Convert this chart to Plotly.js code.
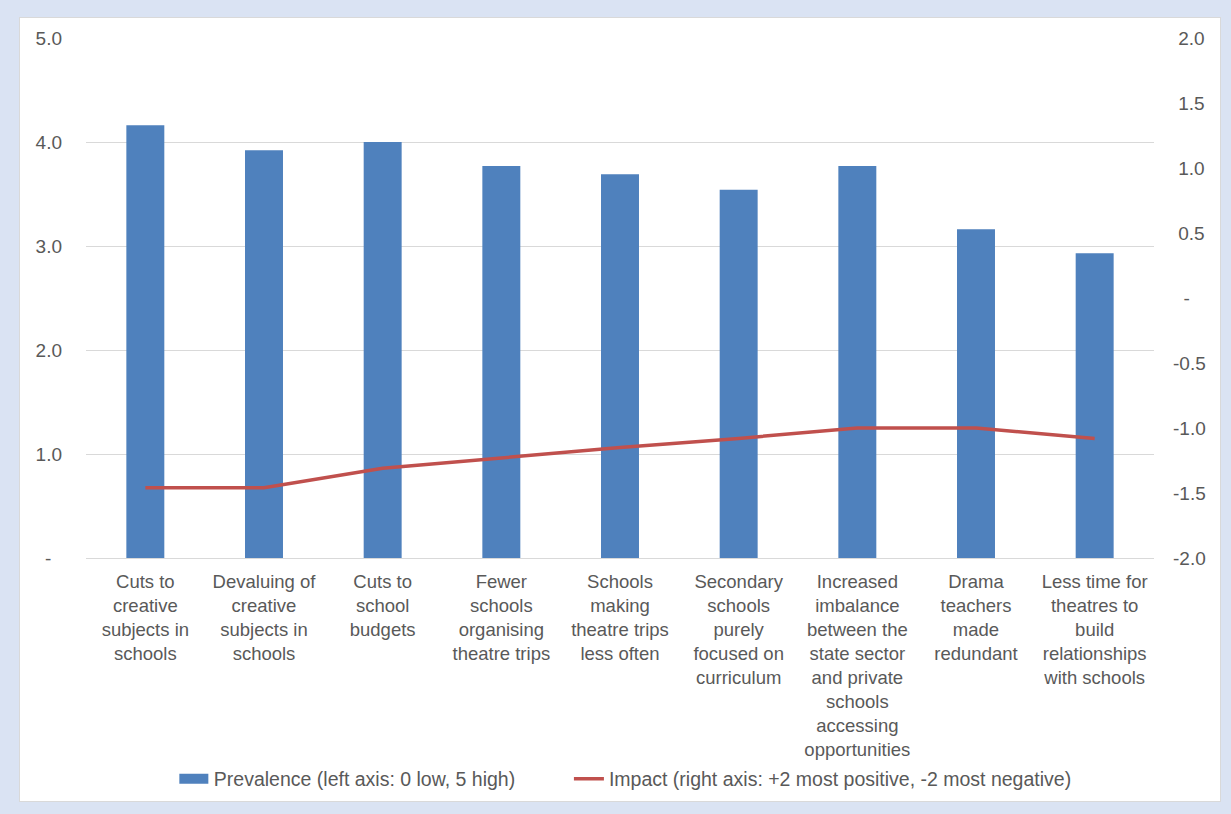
<!DOCTYPE html>
<html>
<head>
<meta charset="utf-8">
<script src="https://cdn.plot.ly/plotly-3.0.1.min.js"></script>
<style>
  html, body { margin: 0; padding: 0; }
  body { width: 1231px; height: 814px; background: #dae3f3; position: relative; overflow: hidden; }
  #chart { position: absolute; left: 19px; top: 17px; width: 1200px; height: 783px;
           background: #ffffff; border: 1px solid #d9d9d9; }
</style>
</head>
<body>
<div id="chart"></div>
<script>
// Categories (wrapped onto several lines for the axis)
const categories = [
  "Cuts to<br>creative<br>subjects in<br>schools",
  "Devaluing of<br>creative<br>subjects in<br>schools",
  "Cuts to<br>school<br>budgets",
  "Fewer<br>schools<br>organising<br>theatre trips",
  "Schools<br>making<br>theatre trips<br>less often",
  "Secondary<br>schools<br>purely<br>focused on<br>curriculum",
  "Increased<br>imbalance<br>between the<br>state sector<br>and private<br>schools<br>accessing<br>opportunities",
  "Drama<br>teachers<br>made<br>redundant",
  "Less time for<br>theatres to<br>build<br>relationships<br>with schools"
];

// Prevalence: 0 low, 5 high (left axis)
const prevalence = [4.16, 3.92, 4.00, 3.77, 3.69, 3.54, 3.77, 3.16, 2.93];

// Impact: +2 most positive, -2 most negative (right axis)
const impact = [-1.46, -1.46, -1.31, -1.23, -1.15, -1.08, -1.00, -1.00, -1.08];

// Axis tick labels (accounting style, dash for zero)
const leftTickVals = [0, 1, 2, 3, 4, 5];
const leftTickText = ["-\u00a0\u00a0", "1.0", "2.0", "3.0", "4.0", "5.0"];
const rightTickVals = [-2, -1.5, -1, -0.5, 0, 0.5, 1, 1.5, 2];
const rightTickText = ["-2.0", "-1.5", "-1.0", "-0.5", "\u2008\u2008-", "\u2008" + "0.5", "\u2008" + "1.0", "\u2008" + "1.5", "\u2008" + "2.0"];

// Series names shown in the legend
const seriesNames = [
  "Prevalence (left axis: 0 low, 5 high)",
  "Impact (right axis: +2 most positive, -2 most negative)"
];

const textColor = "#595959";
const fontFamily = "Liberation Sans, Arial, sans-serif";
const legendPad = "\u00a0".repeat(9);

const traces = [
  {
    type: "bar",
    name: seriesNames[0] + legendPad,
    x: categories,
    y: prevalence,
    marker: { color: "#4f81bd" },
    yaxis: "y",
    hoverinfo: "y"
  },
  {
    type: "scatter",
    mode: "lines",
    name: seriesNames[1],
    x: categories,
    y: impact,
    line: { color: "#c0504d", width: 3.5 },
    yaxis: "y2",
    hoverinfo: "y"
  }
];

const layout = {
  width: 1200,
  height: 783,
  paper_bgcolor: "#ffffff",
  plot_bgcolor: "#ffffff",
  margin: { l: 66, r: 66, t: 20, b: 243 },
  font: { family: fontFamily, color: textColor, size: 19 },
  bargap: 0.68,
  showlegend: true,
  legend: {
    orientation: "h",
    xref: "paper",
    x: 0.505, xanchor: "center",
    yref: "container",
    y: 0.028, yanchor: "middle",
    bgcolor: "rgba(0,0,0,0)",
    font: { size: 19.5, color: textColor },
    itemwidth: 30,
    traceorder: "normal"
  },
  xaxis: {
    type: "category",
    automargin: false,
    showgrid: false,
    showline: false,
    zeroline: false,
    ticks: "",
    tickangle: 0,
    ticklabelstandoff: 10,
    tickfont: { size: 18.5, color: textColor }
  },
  yaxis: {
    automargin: false,
    range: [0, 5],
    tickvals: leftTickVals,
    ticktext: leftTickText,
    showgrid: true,
    gridcolor: "#d9d9d9",
    gridwidth: 1,
    zeroline: true,
    zerolinecolor: "#d9d9d9",
    zerolinewidth: 1,
    showline: false,
    ticks: "",
    ticklabelstandoff: 23,
    tickfont: { size: 19, color: textColor },
    fixedrange: true
  },
  yaxis2: {
    automargin: false,
    overlaying: "y",
    side: "right",
    range: [-2, 2],
    tickvals: rightTickVals,
    ticktext: rightTickText,
    showgrid: false,
    zeroline: false,
    showline: false,
    ticks: "",
    ticklabelstandoff: 18,
    tickfont: { size: 19, color: textColor },
    fixedrange: true
  }
};

Plotly.newPlot("chart", traces, layout, { displayModeBar: false, staticPlot: true }).then(function (gd) {
  // Widen the bar legend swatch into a flat rectangle
  gd.querySelectorAll(".legend .legendpoints path").forEach(function (p) {
    const d = p.getAttribute("d") || "";
    if (/^M6,6H-6V-6H6Z$/.test(d)) {
      p.setAttribute("d", "M14.5,5H-14.5V-5H14.5Z");
    }
  });
});
</script>
</body>
</html>
